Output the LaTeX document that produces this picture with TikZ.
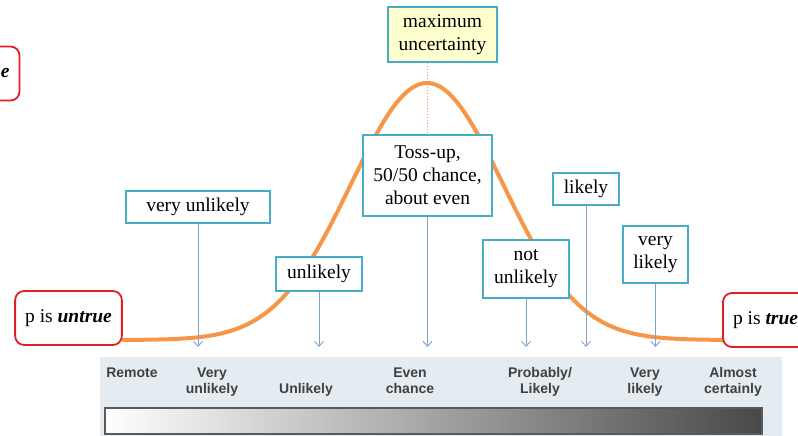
\documentclass[tikz,border=0pt]{standalone}
\usepackage{fontspec}
\setmainfont{Liberation Serif}
\setsansfont{Liberation Sans}
\usepackage{tikz}
\usetikzlibrary{arrows.meta}
\definecolor{bellc}{RGB}{247,150,70}
\definecolor{edgec}{RGB}{70,172,200}
\definecolor{ptrc}{RGB}{128,160,210}
\definecolor{notec}{RGB}{255,255,208}
\definecolor{panelc}{RGB}{228,236,241}
\definecolor{lvlc}{RGB}{64,64,64}
\definecolor{redc}{RGB}{226,30,38}
\definecolor{barc}{RGB}{72,72,72}

\begin{document}
\begin{tikzpicture}[x=1pt,y=-1pt,
  tag/.style={draw=edgec,fill=white,line width=1.3pt,align=center,inner sep=0pt,
    font=\fontsize{19.5}{23}\selectfont},
  pbox/.style={draw=redc,fill=white,line width=1.8pt,rounded corners=9pt,inner xsep=10pt,
    minimum height=54pt,font=\fontsize{19.5}{23}\selectfont},
  ptr/.style={ptrc,line width=0.9pt,-{Straight Barb[length=5pt,width=9pt]}},
  bell/.style={bellc,line width=4pt},
  lvl/.style={anchor=north,inner sep=0pt,align=center,text=lvlc,
    font=\fontsize{14}{16}\selectfont\sffamily\bfseries}]
\path[use as bounding box,clip] (0,0) rectangle (798,436);
\coordinate (floor) at (0,347);
\coordinate (peak) at (427,83);
\fill[panelc] (100,357) rectangle (782,436);
\shade[left color=white,right color=barc,draw=barc!90,line width=1.5pt] (105,408) rectangle (762,434);
\draw[bell] plot[domain=122:723,samples=150] (\x,{340-257*exp(-0.5*((\x-427)/76)^2)});
\node[pbox] (untrue) at (68.5,318) {p is \textbf{\textit{untrue}}};
\node[pbox] (true) at (765.5,320) {p is \textbf{\textit{true}}};
\node[pbox] (trueup) at (-23,73.5) {p is \textbf{\textit{true}}};
\node[tag,fill=notec,minimum width=109pt,minimum height=55pt] (maxu) at (442.5,34.5) {maximum\\uncertainty};
\draw[bellc,line width=1pt,dotted] (peak |- maxu.south) -- (peak |- floor);
\node[tag,minimum width=144pt,minimum height=32pt] (vu) at (198,207) {very unlikely};
\node[tag,minimum width=86pt,minimum height=34pt] (ul) at (319,274) {unlikely};
\node[tag,minimum width=129pt,minimum height=81pt] (toss) at (427.5,175.5) {Toss-up,\\50/50 chance,\\about even};
\node[tag,minimum width=86pt,minimum height=58pt] (nu) at (526,269) {not\\unlikely};
\node[tag,minimum width=66pt,minimum height=32pt] (lk) at (586,189) {likely};
\node[tag,minimum width=65pt,minimum height=57pt] (vl) at (655.5,254.5) {very\\likely};
\draw[ptr] (vu.south) -- (vu.south |- floor);
\draw[ptr] (ul.south) -- (ul.south |- floor);
\draw[ptr] (toss.south) -- (toss.south |- floor);
\draw[ptr] (nu.south) -- (nu.south |- floor);
\draw[ptr] (lk.south) -- (lk.south |- floor);
\draw[ptr] (vl.south) -- (vl.south |- floor);
\node[lvl] (remote) at (132,365.8) {Remote\strut};
\node[lvl] (veryun) at (212,365.8) {Very\strut\\unlikely\strut};
\node[lvl] (unl) at (306,381.8) {Unlikely\strut};
\node[lvl] (even) at (410,365.8) {Even\strut\\chance\strut};
\node[lvl] (prob) at (540,365.8) {Probably/\strut\\Likely\strut};
\node[lvl] (verylk) at (645,365.8) {Very\strut\\likely\strut};
\node[lvl] (almost) at (733,365.8) {Almost\strut\\certainly\strut};
\end{tikzpicture}
\end{document}
